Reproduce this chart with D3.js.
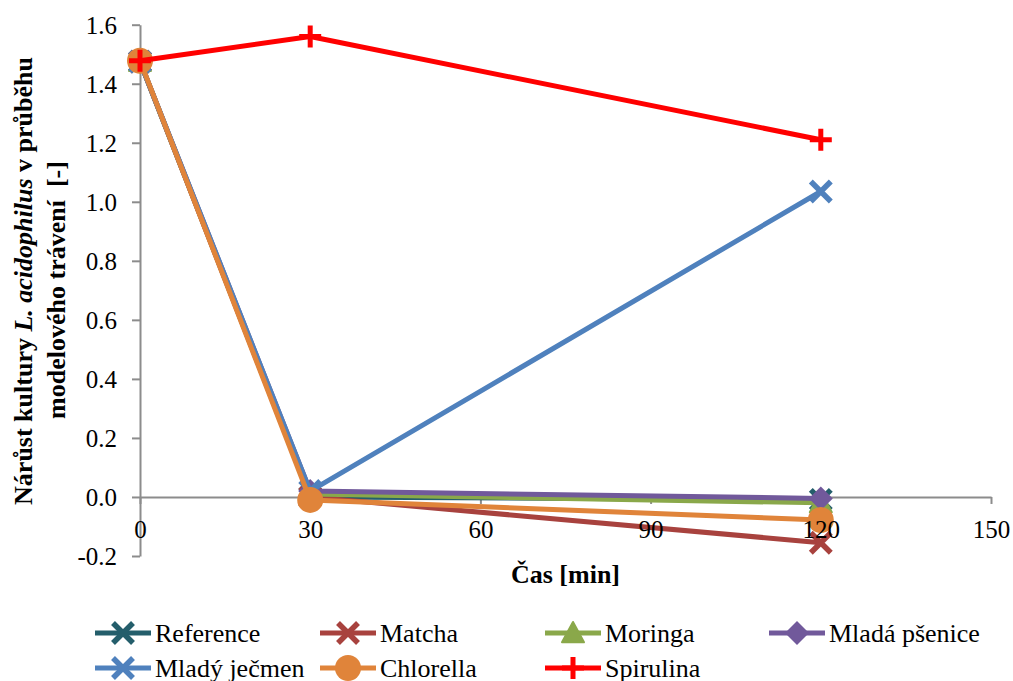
<!DOCTYPE html>
<html><head><meta charset="utf-8">
<script src="https://cdn.jsdelivr.net/npm/d3@7"></script>
</head><body style="margin:0"><svg id="c" width="1013" height="681" style="display:block"></svg>
<script>
const times = [0, 30, 120];
const xTicks = [0, 30, 60, 90, 120, 150];
const yTicks = [-0.2, 0, 0.2, 0.4, 0.6, 0.8, 1.0, 1.2, 1.4, 1.6];
const yTickLabels = ["-0.2","0.0","0.2","0.4","0.6","0.8","1.0","1.2","1.4","1.6"];
const seriesNames = ["Reference","Matcha","Moringa","Mladá pšenice","Mladý ječmen","Chlorella","Spirulina"];
const reference = [1.475, 0.0, -0.01];
const matcha = [1.475, 0.0, -0.155];
const moringa = [1.475, 0.01, -0.02];
const mladaPsenice = [1.475, 0.02, -0.005];
const mladyJecmen = [1.475, 0.02, 1.035];
const chlorella = [1.478, -0.01, -0.078];
const spirulina = [1.478, 1.56, 1.21];
const seriesValues = [reference, matcha, moringa, mladaPsenice, mladyJecmen, chlorella, spirulina];
const colors = ["#245e6b","#a8423e","#8aa84a","#71599b","#4f81bd","#e0843a","#ff0000"];
const markers = ["x","x","triangle","diamond","x","circle","plus"];

const FONT = '"Liberation Serif"';
const svg = d3.select("#c");
const x = d3.scaleLinear().domain([0,150]).range([140,991]);
const y = d3.scaleLinear().domain([-0.2,1.6]).range([556,24.7]);
const axisColor = "#8c8c8c";

// Y axis
const ya = svg.append("g").attr("transform",`translate(${x(0)},0)`)
  .call(d3.axisLeft(y).tickValues(yTicks).tickSize(8).tickSizeOuter(0)
    .tickFormat((d,i)=>yTickLabels[i]));
ya.attr("font-size",25);
ya.select(".domain").attr("stroke",axisColor).attr("stroke-width",2);
ya.selectAll(".tick line").attr("stroke",axisColor).attr("stroke-width",2);
ya.selectAll(".tick text").attr("x",-23).attr("dy","0.34em").attr("fill","#000");

// X axis (line + ticks)
const xa = svg.append("g").attr("transform",`translate(0,${y(0)})`)
  .call(d3.axisBottom(x).tickValues(xTicks).tickSize(7).tickSizeOuter(0).tickFormat(""));
xa.select(".domain").attr("stroke",axisColor).attr("stroke-width",2);
xa.selectAll(".tick line").attr("stroke",axisColor).attr("stroke-width",2);

function drawMarker(g, type, color){
  if(type==="x"){
    const s=10;
    g.append("path").attr("d",`M${-s},${-s}L${s},${s}M${-s},${s}L${s},${-s}`)
     .attr("stroke",color).attr("stroke-width",5.5).attr("fill","none");
  } else if(type==="plus"){
    const s=11;
    g.append("path").attr("d",`M${-s},0L${s},0M0,${-s}L0,${s}`)
     .attr("stroke",color).attr("stroke-width",5).attr("fill","none");
  } else if(type==="circle"){
    g.append("circle").attr("r",13).attr("fill",color);
  } else if(type==="diamond"){
    const s=12;
    g.append("path").attr("d",`M0,${-s}L${s},0L0,${s}L${-s},0Z`).attr("fill",color);
  } else if(type==="triangle"){
    const s=11;
    g.append("path").attr("d",`M0,${-s}L${s},${s*0.85}L${-s},${s*0.85}Z`).attr("fill",color)
     .attr("stroke",color).attr("stroke-width",2).attr("stroke-linejoin","round");
  }
}

const line = d3.line().x((d,i)=>x(times[i])).y(d=>y(d));
seriesValues.forEach((vals,k)=>{
  const g = svg.append("g");
  g.append("path").datum(vals).attr("d",line).attr("fill","none")
    .attr("stroke",colors[k]).attr("stroke-width",5).attr("stroke-linejoin","round");
  vals.forEach((v,i)=>{
    const m = g.append("g").attr("transform",`translate(${x(times[i])},${y(v)})`);
    drawMarker(m, markers[k], colors[k]);
  });
});

// X tick labels on top
const xl = svg.append("g").attr("transform",`translate(0,${y(0)})`)
  .call(d3.axisBottom(x).tickValues(xTicks).tickSize(0).tickSizeOuter(0).tickFormat(d3.format("d")));
xl.attr("font-size",25);
xl.select(".domain").remove();
xl.selectAll(".tick line").remove();
xl.selectAll(".tick text").attr("y",41).attr("dy",0).attr("fill","#000");

// Axis titles
svg.append("text").attr("x",565.5).attr("y",583).attr("text-anchor","middle")
  .attr("font-size",26).attr("font-weight","bold").text("Čas [min]");
const t1 = svg.append("text").attr("transform","translate(32,281) rotate(-90)")
  .attr("text-anchor","middle").attr("font-size",26).attr("font-weight","bold");
t1.append("tspan").text("Nárůst kultury ");
t1.append("tspan").attr("font-style","italic").text("L. acidophilus");
t1.append("tspan").text(" v průběhu");
svg.append("text").attr("transform","translate(65,290) rotate(-90)")
  .attr("text-anchor","middle").attr("font-size",26).attr("font-weight","bold")
  .style("white-space","pre").text("modelového trávení  [-]");

// Legend
const legX = [95,320,545,769];
const legY = [633,668];
seriesNames.forEach((name,k)=>{
  const col = k<4 ? k : k-4, row = k<4 ? 0 : 1;
  const g = svg.append("g").attr("transform",`translate(${legX[col]},${legY[row]})`);
  g.append("line").attr("x1",0).attr("x2",56).attr("y1",0).attr("y2",0)
    .attr("stroke",colors[k]).attr("stroke-width",5);
  const m = g.append("g").attr("transform","translate(28,0)");
  drawMarker(m, markers[k], colors[k]);
  g.append("text").attr("x",60).attr("y",8.5).attr("font-size",26)
    .attr("fill","#000").text(name);
});

// force serif font on every text
svg.selectAll("g").attr("font-family", null);
svg.selectAll("text, tspan").each(function(){
  this.style.setProperty("font-family", FONT, "important");
});
</script></body></html>
